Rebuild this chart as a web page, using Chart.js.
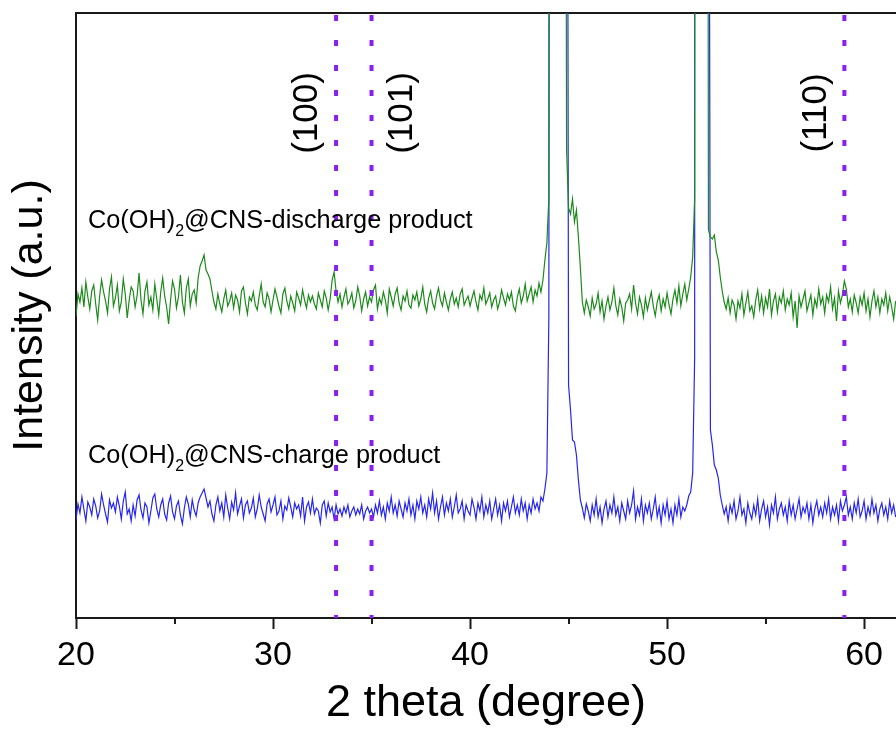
<!DOCTYPE html>
<html>
<head>
<meta charset="utf-8">
<script src="https://cdn.jsdelivr.net/npm/chart.js@4/dist/chart.umd.min.js"></script>
<style>
  html, body { margin: 0; padding: 0; background: #ffffff; }
  #wrap { width: 896px; height: 733px; position: relative; }
</style>
</head>
<body>
<div id="wrap"><canvas id="c" width="896" height="733"></canvas></div>
<script>
// ---- data ----
const thetaStart = 20.0;   // first sample, degrees
const thetaStep = 0.1;     // sampling step, degrees
const xMin = 20, xMax = 61.62;
const yMin = 0, yMax = 605;

const xMajorTicks = [20, 30, 40, 50, 60];
const xTickLabels = ['20', '30', '40', '50', '60'];
const xMinorTicks = [25, 35, 45, 55];

const seriesNames = ['Co(OH)2@CNS-discharge product', 'Co(OH)2@CNS-charge product'];

// discharge product (green), intensity a.u.
const dischargeIntensity = [
  302,324,316,330,311,336,321,309,327,333,
  314,298,322,338,326,317,305,329,341,312,
  320,333,307,316,339,324,300,318,331,327,
  311,322,345,318,304,327,336,313,321,308,
  334,319,303,326,340,322,311,294,318,337,
  329,310,321,343,316,305,330,339,312,324,
  328,315,340,352,357,363,348,344,339,327,
  316,309,324,314,306,319,328,312,317,325,
  310,323,318,306,327,331,315,304,321,317,
  326,313,308,322,334,316,311,325,319,306,
  318,329,321,312,305,324,330,317,309,322,
  315,307,326,320,313,328,318,310,323,316,
  322,314,309,325,318,311,327,320,308,319,
  338,346,327,316,324,311,321,329,314,318,
  325,310,317,331,322,307,319,326,312,321,
  316,328,333,309,320,314,326,318,305,329,
  321,312,324,330,315,308,322,317,327,313,
  310,323,318,326,312,319,331,314,306,320,
  327,315,309,322,330,318,312,325,316,308,
  319,326,314,320,311,324,329,313,318,322,
  312,320,327,316,308,323,318,330,314,319,
  325,311,318,322,309,316,328,320,313,324,
  318,326,312,307,321,329,315,322,334,317,
  324,331,316,328,322,335,326,338,358,375,
  420,6400,11500,15500,17000,14000,9000,4200,1500,468,
  410,404,419,396,408,381,350,316,305,318,
  311,302,320,309,314,325,306,317,299,312,
  321,308,316,330,312,303,319,311,297,315,
  318,324,309,333,315,304,321,313,301,320,
  308,317,326,312,302,316,323,307,319,311,
  325,313,304,319,328,315,332,312,324,334,
  318,329,341,361,420,8800,15000,17000,13000,7000,
  2200,388,381,379,383,366,358,341,327,316,
  309,320,305,318,313,299,317,310,324,303,
  315,326,307,312,301,318,328,309,322,305,
  320,311,329,303,317,324,306,321,315,327,
  308,319,313,325,301,317,290,322,311,319,
  327,307,315,323,303,319,311,329,314,321,
  305,323,316,331,309,320,297,327,315,323,
  337,329,311,319,306,323,315,305,321,313,
  325,307,319,301,317,327,311,321,305,319,
  313,325,307,321,311,299,317
];

// charge product (blue), intensity a.u.
const chargeIntensity = [
  98,114,105,121,109,97,116,111,103,119,
  112,100,107,124,113,104,96,118,110,115,
  106,121,112,99,117,126,104,109,97,113,
  102,118,123,108,100,115,111,95,107,120,
  124,109,101,113,119,104,98,115,122,106,
  99,112,117,103,94,110,121,114,101,118,
  108,102,115,121,125,129,120,111,117,104,
  97,113,121,107,115,101,123,110,99,116,
  108,125,104,112,119,100,113,117,105,110,
  120,101,109,123,111,104,97,114,119,106,
  113,121,103,107,117,99,112,108,120,111,
  101,115,109,113,102,121,97,111,116,105,
  119,104,110,107,95,113,117,102,115,106,
  111,99,113,104,109,102,111,105,113,101,
  107,111,103,109,104,113,99,107,111,105,
  109,101,113,105,117,103,111,99,115,107,
  121,105,113,102,117,109,101,115,107,119,
  103,113,99,117,109,121,105,113,101,119,
  109,125,105,117,99,111,121,103,115,107,
  119,101,111,123,105,109,117,99,113,107,
  103,119,111,99,115,107,121,101,113,105,
  117,99,109,119,103,113,97,115,107,117,
  101,111,121,105,113,103,119,107,115,99,
  113,105,119,109,115,107,121,117,129,145,
  300,2400,6000,11000,15000,16500,13000,8000,3500,1400,
  233,208,178,176,163,138,118,110,100,114,
  107,97,113,103,119,101,111,95,109,117,
  101,113,105,121,103,111,97,115,107,99,
  117,105,113,127,99,111,103,119,97,113,
  105,115,99,109,121,101,111,95,113,103,
  117,99,109,95,113,103,119,101,111,107,
  113,122,126,145,260,7000,13500,16000,12000,6000,
  2000,1200,188,173,153,148,140,123,113,104,
  111,97,113,105,117,99,107,121,103,109,
  95,115,105,99,113,103,119,97,109,117,
  101,111,93,113,105,121,99,109,115,103,
  111,97,117,103,113,99,109,119,101,111,
  105,115,99,113,95,109,117,103,111,101,
  115,105,119,99,111,103,113,97,117,107,
  113,121,103,111,99,115,105,119,101,107,
  117,99,111,103,119,105,113,97,109,115,
  103,111,99,117,105,113,101
];

// reference reflections (dotted lines) and their labels
const refPositions = [33.2, 35.0, 59.0];
const refLabels = ['(100)', '(101)', '(110)'];

// ---- layout / style (kept apart from data) ----
const FONT = '"Liberation Sans", Arial, Helvetica, sans-serif';
const GREEN = '#1b8a1b';
const BLUE = '#2626ee';
const PURPLE = '#8a1ff0';
const AXIS = '#1a1a1a';

const refLabelAnchors = [ {x: 31.73, y: 505}, {x: 36.55, y: 505}, {x: 57.56, y: 505} ];
const seriesLabelAnchors = [ {x: 20.61, y: 390}, {x: 20.61, y: 155} ];

function toPoints(arr) {
  return arr.map((v, i) => ({ x: +(thetaStart + i * thetaStep).toFixed(2), y: v }));
}

const refDatasets = refPositions.map(p => ({
  label: 'ref ' + p,
  data: [{x: p, y: yMax}, {x: p, y: yMin}],
  borderColor: PURPLE,
  borderWidth: 4,
  borderDash: [6, 19],
  borderDashOffset: 23,
  borderCapStyle: 'butt',
  pointRadius: 0,
  fill: false
}));

const minorTicksPlugin = {
  id: 'minorTicks',
  afterDraw(chart) {
    const s = chart.scales.x;
    const ctx = chart.ctx;
    ctx.save();
    ctx.strokeStyle = AXIS;
    ctx.lineWidth = 2;
    xMinorTicks.forEach(v => {
      const px = Math.round(s.getPixelForValue(v));
      ctx.beginPath();
      ctx.moveTo(px, s.top);
      ctx.lineTo(px, s.top + 6);
      ctx.stroke();
    });
    ctx.restore();
  }
};

function drawSubscriptLabel(ctx, x, y, text) {
  const idx = text.indexOf(')2');
  const a = text.slice(0, idx + 1), sub = '2', b = text.slice(idx + 2);
  ctx.font = '25.3px ' + FONT;
  ctx.fillText(a, x, y);
  let w = ctx.measureText(a).width;
  ctx.font = '16px ' + FONT;
  ctx.fillText(sub, x + w, y + 8);
  w += ctx.measureText(sub).width;
  ctx.font = '25.3px ' + FONT;
  ctx.fillText(b, x + w, y);
}

const labelsPlugin = {
  id: 'textLabels',
  afterDatasetsDraw(chart) {
    const xs = chart.scales.x, ys = chart.scales.y;
    const ctx = chart.ctx;
    ctx.save();
    ctx.fillStyle = '#000';
    ctx.textAlign = 'left';
    ctx.textBaseline = 'alphabetic';
    seriesNames.forEach((name, i) => {
      const a = seriesLabelAnchors[i];
      drawSubscriptLabel(ctx, xs.getPixelForValue(a.x), ys.getPixelForValue(a.y), name);
    });
    ctx.font = '35px ' + FONT;
    ctx.textAlign = 'center';
    ctx.textBaseline = 'middle';
    refLabels.forEach((t, i) => {
      const a = refLabelAnchors[i];
      ctx.save();
      ctx.translate(xs.getPixelForValue(a.x), ys.getPixelForValue(a.y));
      ctx.rotate(-Math.PI / 2);
      ctx.fillText(t, 0, 0);
      ctx.restore();
    });
    ctx.restore();
  }
};

new Chart(document.getElementById('c'), {
  type: 'line',
  data: {
    datasets: [
      ...refDatasets,
      {
        label: seriesNames[0],
        data: toPoints(dischargeIntensity),
        borderColor: GREEN,
        borderWidth: 1.2,
        pointRadius: 0,
        tension: 0,
        fill: false
      },
      {
        label: seriesNames[1],
        data: toPoints(chargeIntensity),
        borderColor: BLUE,
        borderWidth: 1.2,
        pointRadius: 0,
        tension: 0,
        fill: false
      }
    ]
  },
  options: {
    responsive: false,
    animation: false,
    devicePixelRatio: 1,
    layout: { padding: 0 },
    plugins: { legend: { display: false }, tooltip: { enabled: false } },
    scales: {
      x: {
        type: 'linear',
        position: 'bottom',
        min: xMin, max: xMax,
        afterBuildTicks: s => { s.ticks = xMajorTicks.map(v => ({ value: v })); },
        afterFit: s => { s.height = 115; },
        grid: { drawOnChartArea: false, drawTicks: true, tickLength: 11, tickColor: AXIS, tickWidth: 2 },
        border: { display: true, color: AXIS, width: 2 },
        ticks: {
          color: '#000',
          padding: 6,
          maxRotation: 0,
          autoSkip: false,
          font: { family: FONT, size: 34 },
          callback: v => { const k = xMajorTicks.indexOf(v); return k >= 0 ? xTickLabels[k] : ''; }
        },
        title: {
          display: true,
          text: '2 theta (degree)',
          color: '#000',
          font: { family: FONT, size: 45, lineHeight: 1.2 },
          padding: { top: 0, bottom: 2 }
        }
      },
      x2: {
        type: 'linear',
        position: 'top',
        min: xMin, max: xMax,
        afterFit: s => { s.height = 13; },
        grid: { display: false, drawOnChartArea: false, drawTicks: false },
        border: { display: true, color: AXIS, width: 2 },
        ticks: { display: false }
      },
      y: {
        type: 'linear',
        position: 'left',
        min: yMin, max: yMax,
        afterFit: s => { s.width = 76; },
        grid: { display: false, drawOnChartArea: false, drawTicks: false },
        border: { display: true, color: AXIS, width: 2 },
        ticks: { display: false },
        title: {
          display: true,
          text: 'Intensity (a.u.)',
          color: '#000',
          font: { family: FONT, size: 43, lineHeight: 1.2 },
          padding: { top: 4, bottom: 0 }
        }
      }
    }
  },
  plugins: [minorTicksPlugin, labelsPlugin]
});
</script>
</body>
</html>
